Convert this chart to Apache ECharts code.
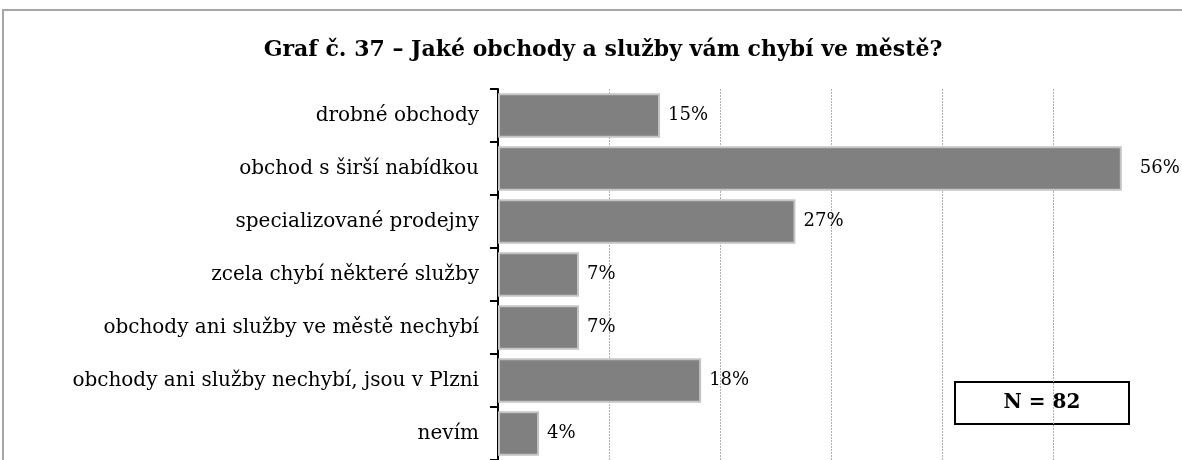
<!DOCTYPE html>
<html>
<head>
<meta charset="utf-8">
<script src="https://cdn.jsdelivr.net/npm/echarts@6/dist/echarts.min.js"></script>
<style>
html,body{margin:0;padding:0;background:#fff;}
#chart{width:1182px;height:460px;}
</style>
</head>
<body>
<div id="chart"></div>
<script>
const titleText = 'Graf č. 37 – Jaké obchody a služby vám chybí ve městě?';
const categories = [
  'drobné obchody',
  'obchod s širší nabídkou',
  'specializované prodejny',
  'zcela chybí některé služby',
  'obchody ani služby ve městě nechybí',
  'obchody ani služby nechybí, jsou v Plzni',
  'nevím'
];
const values = [14.6, 56.2, 26.8, 7.3, 7.3, 18.3, 3.7];
const sampleNote = 'N = 82';
const axisMax = 60;
const axisStep = 10;

const serif = '"DejaVu Serif", "Liberation Serif", serif';
const chart = echarts.init(document.getElementById('chart'), null, {renderer: 'canvas'});
const seriesData = values.map((v, i) => i === 1 ? {value: v, label: {distance: 18}} : v);
chart.setOption({
  backgroundColor: '#ffffff',
  animation: false,
  title: {
    text: titleText,
    left: 598,
    top: 34,
    textAlign: 'center',
    textStyle: {fontFamily: serif, fontWeight: 'bold', fontSize: 22, color: '#000'}
  },
  grid: {left: 498, top: 89, width: 666, height: 377, containLabel: false},
  xAxis: {
    type: 'value',
    min: 0,
    max: axisMax,
    interval: axisStep,
    axisLine: {show: false},
    axisTick: {show: false},
    axisLabel: {show: false},
    splitLine: {
      show: true,
      showMinLine: false,
      showMaxLine: false,
      lineStyle: {color: '#b0b0b0', width: 1, type: [2, 1]}
    }
  },
  yAxis: {
    type: 'category',
    data: categories,
    inverse: true,
    axisLine: {show: true, lineStyle: {color: '#000', width: 2}},
    axisTick: {show: true, length: 8, lineStyle: {color: '#000', width: 2}},
    axisLabel: {fontFamily: serif, fontSize: 20, color: '#000', margin: 19, padding: [5, 0, 0, 0]}
  },
  series: [{
    type: 'bar',
    data: seriesData,
    barCategoryGap: '16%',
    itemStyle: {color: '#808080', borderColor: '#c4c4c4', borderWidth: 2},
    label: {
      show: true,
      position: 'right',
      distance: 8,
      formatter: p => Math.round(p.value) + '%',
      fontFamily: serif,
      fontSize: 18,
      color: '#000',
      padding: [5, 0, 0, 0]
    }
  }],
  graphic: [
    {
      type: 'rect',
      shape: {x: 3, y: 10, width: 1200, height: 500},
      style: {fill: 'none', stroke: '#a6a6a6', lineWidth: 2},
      silent: true
    },
    {
      type: 'group',
      left: 954,
      top: 381,
      children: [
        {type: 'rect', shape: {x: 0, y: 0, width: 174, height: 42},
         style: {fill: '#fff', stroke: '#000', lineWidth: 2}},
        {type: 'text', x: 87, y: 21,
         style: {text: sampleNote, fontFamily: serif, fontWeight: 'bold', fontSize: 20,
                 fill: '#000', align: 'center', verticalAlign: 'middle'}}
      ]
    }
  ]
});
</script>
</body>
</html>
